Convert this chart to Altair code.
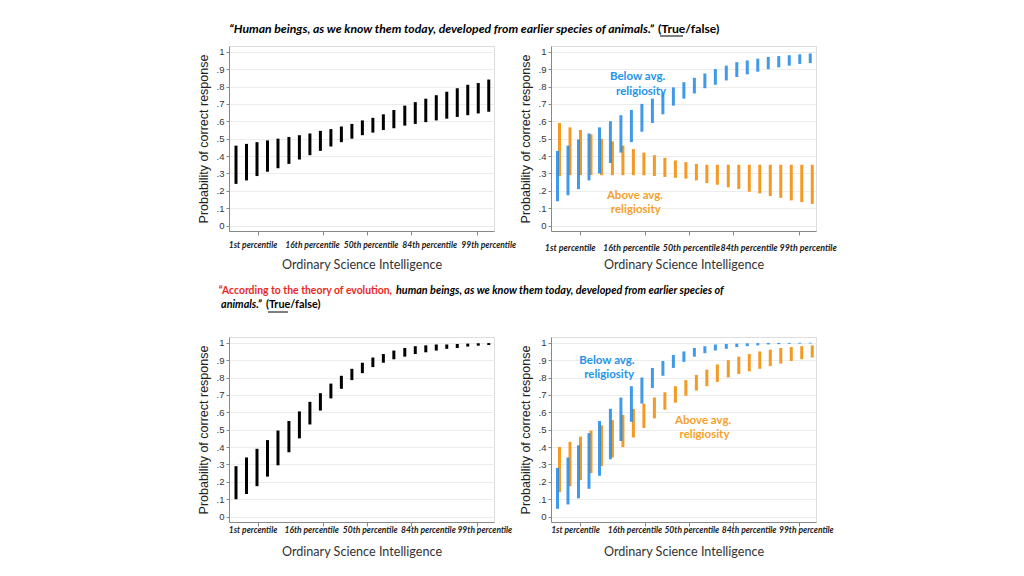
import altair as alt
import pandas as pd

# ---------------- data ----------------
X = [-3.0, -2.76, -2.52, -2.28, -2.04, -1.79, -1.55, -1.31, -1.07, -0.83, -0.59, -0.35,
     -0.11, 0.13, 0.37, 0.61, 0.86, 1.1, 1.34, 1.58, 1.82, 2.06, 2.3, 2.54, 2.78]

P1_LO = [0.24, 0.26, 0.285, 0.31, 0.33, 0.355, 0.38, 0.405, 0.43, 0.455, 0.48, 0.50, 0.52,
         0.535, 0.55, 0.56, 0.575, 0.585, 0.595, 0.605, 0.615, 0.625, 0.635, 0.645, 0.655]
P1_HI = [0.46, 0.47, 0.48, 0.49, 0.50, 0.51, 0.52, 0.53, 0.545, 0.555, 0.57, 0.585, 0.605,
         0.62, 0.64, 0.665, 0.69, 0.71, 0.73, 0.75, 0.77, 0.79, 0.81, 0.82, 0.84]

P2_BLUE_LO = [0.14, 0.175, 0.21, 0.26, 0.30, 0.36, 0.42, 0.48, 0.54, 0.59, 0.64, 0.69, 0.73,
              0.76, 0.79, 0.81, 0.835, 0.855, 0.87, 0.885, 0.90, 0.91, 0.92, 0.93, 0.935]
P2_BLUE_HI = [0.43, 0.46, 0.495, 0.53, 0.565, 0.60, 0.635, 0.665, 0.70, 0.73, 0.765, 0.795, 0.825,
              0.85, 0.875, 0.90, 0.92, 0.94, 0.95, 0.96, 0.97, 0.975, 0.98, 0.985, 0.99]
P2_ORANGE_LO = [0.285, 0.29, 0.29, 0.29, 0.29, 0.29, 0.29, 0.29, 0.29, 0.285, 0.28, 0.275, 0.27,
                0.26, 0.245, 0.235, 0.22, 0.21, 0.195, 0.185, 0.17, 0.16, 0.145, 0.135, 0.125]
P2_ORANGE_HI = [0.59, 0.565, 0.55, 0.525, 0.50, 0.485, 0.46, 0.44, 0.42, 0.405, 0.39, 0.375, 0.365,
                0.355, 0.35, 0.35, 0.35, 0.35, 0.35, 0.35, 0.35, 0.35, 0.35, 0.35, 0.35]

P3_LO = [0.10, 0.13, 0.175, 0.23, 0.295, 0.37, 0.45, 0.53, 0.61, 0.68, 0.735, 0.785, 0.825,
         0.86, 0.885, 0.905, 0.92, 0.935, 0.945, 0.955, 0.965, 0.97, 0.978, 0.983, 0.987]
P3_HI = [0.29, 0.34, 0.39, 0.44, 0.495, 0.55, 0.605, 0.66, 0.71, 0.765, 0.81, 0.85, 0.885,
         0.915, 0.935, 0.955, 0.97, 0.98, 0.985, 0.99, 0.99, 0.993, 0.995, 0.997, 0.998]

P4_BLUE_LO = [0.045, 0.07, 0.105, 0.16, 0.235, 0.33, 0.435, 0.545, 0.65, 0.74, 0.81, 0.855, 0.89,
              0.92, 0.94, 0.955, 0.965, 0.975, 0.98, 0.985, 0.99, 0.992, 0.994, 0.995, 0.996]
P4_BLUE_HI = [0.28, 0.34, 0.41, 0.48, 0.55, 0.62, 0.685, 0.75, 0.80, 0.855, 0.895, 0.93, 0.95,
              0.97, 0.98, 0.99, 0.993, 0.995, 0.997, 0.998, 0.999, 0.999, 0.999, 1.0, 1.0]
P4_ORANGE_LO = [0.14, 0.175, 0.21, 0.25, 0.29, 0.34, 0.40, 0.455, 0.51, 0.565, 0.615, 0.655, 0.695,
                0.725, 0.75, 0.775, 0.80, 0.82, 0.835, 0.85, 0.865, 0.88, 0.895, 0.905, 0.915]
P4_ORANGE_HI = [0.40, 0.43, 0.46, 0.495, 0.525, 0.555, 0.585, 0.62, 0.65, 0.685, 0.715, 0.75, 0.785,
                0.815, 0.845, 0.875, 0.90, 0.92, 0.935, 0.95, 0.96, 0.97, 0.975, 0.98, 0.985]

X_TICKS = [-2.5, -1, 0, 1, 2.5]
X_TICK_LABELS = ["1st percentile", "16th percentile", "50th percentile", "84th percentile", "99th percentile"]
# where each panel's tick-label text is centred (in x-axis units)
P1_LABEL_AT = [-2.61, -1.25, 0.09, 1.43, 2.78]
P2_LABEL_AT = [-2.72, -1.32, 0.05, 1.37, 2.72]
P3_LABEL_AT = [-2.61, -1.27, 0.07, 1.40, 2.69]
P4_LABEL_AT = [-2.60, -1.24, 0.06, 1.37, 2.68]
Y_TICKS = [0, 0.1, 0.2, 0.3, 0.4, 0.5, 0.6, 0.7, 0.8, 0.9, 1.0]

X_TITLE = "Ordinary Science Intelligence"
Y_TITLE = "Probability of correct response"

TITLE1_QUOTE = "\u201cHuman beings, as we know them today, developed from earlier species of animals.\u201d"
TITLE_TF = "(True/false)"
TITLE2_RED = "\u201cAccording to the theory of evolution,"
TITLE2_BLACK1 = "human beings, as we know them today, developed from earlier species of"
TITLE2_BLACK2 = "animals.\u201d"

ANN_BELOW = ["Below avg.", "religiosity"]
ANN_ABOVE = ["Above avg.", "religiosity"]
P2_ANN_BELOW = ([-1.18, -1.10], [0.853, 0.771])
P2_ANN_ABOVE = ([-1.24, -1.22], [0.171, 0.091])
P4_ANN_BELOW = ([-1.88, -1.83], [0.895, 0.813])
P4_ANN_ABOVE = ([0.32, 0.35], [0.55, 0.468])

BLACK = "#000000"
BLUE = "#1E88E5"
ORANGE = "#F39A24"
BLUE_TXT = "#2494EA"
ORANGE_TXT = "#F5A12A"

W, H = 265, 185
XDOM = [-3.16, 2.9]
YDOM = [-0.031, 1.033]

# ---------------- helpers ----------------
y_label_expr = ("datum.value == 0 ? '0' : datum.value == 1 ? '1' : "
                "replace(format(datum.value, '.1f'), '0.', '.')")
XS = alt.Scale(domain=XDOM, nice=False, zero=False)
YS = alt.Scale(domain=YDOM, nice=False, zero=False)


def x_axis(title_pad):
    return alt.Axis(values=X_TICKS, labels=False, title=X_TITLE, grid=False,
                    tickSize=4, tickColor="#888", domainColor="#888",
                    titleFont="Lato", titleFontSize=12.6, titleFontWeight="normal",
                    titleColor="#333", titlePadding=title_pad)


def y_axis():
    return alt.Axis(values=Y_TICKS, labelExpr=y_label_expr, title=Y_TITLE,
                    grid=True, gridColor="#ececec", gridWidth=1,
                    labelFont="Liberation Sans", labelFontSize=9.5, labelColor="#333",
                    labelPadding=2, tickSize=3, tickColor="#888", domainColor="#888",
                    titleFont="Liberation Sans", titleFontSize=12.5, titleFontWeight="normal",
                    titleColor="#222", titlePadding=6)


def bars(lo, hi, color, tp, offset=0.0, opacity=1.0):
    df = pd.DataFrame({"x": X, "lo": lo, "hi": hi})
    return alt.Chart(df).mark_rule(strokeWidth=3, color=color, xOffset=offset,
                                   opacity=opacity, strokeCap="butt").encode(
        x=alt.X("x:Q", scale=XS, axis=x_axis(tp)),
        y=alt.Y("lo:Q", scale=YS, axis=y_axis()),
        y2="hi:Q",
    )


def annotation(lines, pos, color, tp):
    df = pd.DataFrame({"x": pos[0], "lo": pos[1], "t": lines})
    return alt.Chart(df).mark_text(font="Lato", fontSize=11.5, fontWeight="bold",
                                   color=color, align="center", baseline="middle").encode(
        x=alt.X("x:Q", scale=XS, axis=x_axis(tp)),
        y=alt.Y("lo:Q", scale=YS, axis=y_axis()),
        text="t:N",
    )


def tick_labels(at, dy, tp, size=8.5):
    df = pd.DataFrame({"x": at, "t": X_TICK_LABELS})
    return alt.Chart(df).mark_text(font="Lato", fontSize=size, fontWeight="bold",
                                   fontStyle="italic", color="#222", align="center",
                                   baseline="middle", dy=dy).encode(
        x=alt.X("x:Q", scale=XS, axis=x_axis(tp)),
        y=alt.value(H),
        text="t:N",
    )


one = pd.DataFrame({"a": [0]})


def txt(text, x, y, align, color="#000", style="italic", weight="bold", size=11.5):
    return alt.Chart(one).mark_text(text=text, font="Lato", fontSize=size, fontStyle=style,
                                    fontWeight=weight, color=color, align=align,
                                    baseline="middle").encode(x=alt.value(x), y=alt.value(y))


def uline(x1, x2, y):
    return alt.Chart(one).mark_rule(color="#000", strokeWidth=1).encode(
        x=alt.value(x1), x2=alt.value(x2), y=alt.value(y))


# ---------------- panels ----------------
p1 = alt.layer(
    bars(P1_LO, P1_HI, BLACK, 23),
    tick_labels(P1_LABEL_AT, 14, 23),
    txt(TITLE1_QUOTE, 425, -17, "right", size=12.2),
    txt(TITLE_TF, 429, -17, "left", style="normal", size=12.2),
    uline(431, 454, -10),
).properties(width=W, height=H)

p2 = alt.layer(
    bars(P2_ORANGE_LO, P2_ORANGE_HI, ORANGE, 23, offset=1.5),
    bars(P2_BLUE_LO, P2_BLUE_HI, BLUE, 23, offset=-0.5, opacity=0.85),
    annotation(ANN_BELOW, P2_ANN_BELOW, BLUE_TXT, 23),
    annotation(ANN_ABOVE, P2_ANN_ABOVE, ORANGE_TXT, 23),
    tick_labels(P2_LABEL_AT, 17, 23, size=8.9),
).properties(width=W, height=H)

p3 = alt.layer(
    bars(P3_LO, P3_HI, BLACK, 19),
    tick_labels(P3_LABEL_AT, 8, 19),
    txt(TITLE2_RED, 163, -46, "right", color="#E8281E", style="normal", size=10.4),
    txt(TITLE2_BLACK1, 167, -46, "left", size=10.8),
    txt(TITLE2_BLACK2, -8, -32, "left", size=10.8),
    txt(TITLE_TF, 37, -32, "left", style="normal", size=10.8),
    uline(39, 59, -25),
).properties(width=W, height=H)

p4 = alt.layer(
    bars(P4_ORANGE_LO, P4_ORANGE_HI, ORANGE, 19, offset=1.5),
    bars(P4_BLUE_LO, P4_BLUE_HI, BLUE, 19, offset=-0.5, opacity=0.85),
    annotation(ANN_BELOW, P4_ANN_BELOW, BLUE_TXT, 19),
    annotation(ANN_ABOVE, P4_ANN_ABOVE, ORANGE_TXT, 19),
    tick_labels(P4_LABEL_AT, 8, 19),
).properties(width=W, height=H)

chart = alt.concat(
    p1, p2, p3, p4,
    columns=2, spacing={"row": 106, "column": 57}, bounds="flush", align="each",
).properties(
    padding={"left": 188, "top": 14, "right": 0, "bottom": 0}
).configure_view(stroke=None).configure(background="white")

chart.save("out.html", embed_options={"renderer": "svg", "actions": False})
